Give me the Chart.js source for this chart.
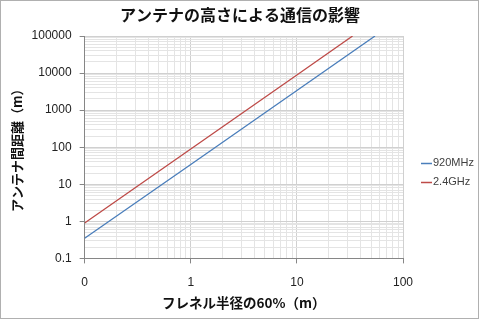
<!DOCTYPE html>
<html>
<head>
<meta charset="utf-8">
<script src="https://cdn.jsdelivr.net/npm/chart.js@4.4.0/dist/chart.umd.min.js"></script>
<style>
  html, body { margin: 0; padding: 0; background: #fff; }
  #wrap { width: 480px; height: 320px; }
</style>
</head>
<body>
<div id="wrap"><canvas id="fresnelChart" width="480" height="320"></canvas></div>
<script>
// data
const xMajor = [0.1, 1, 10, 100];
const xTickLabels = ['0', '1', '10', '100'];
const yMajor = [0.1, 1, 10, 100, 1000, 10000, 100000];
const yTickLabels = ['0.1', '1', '10', '100', '1000', '10000', '100000'];

const chartTitle = 'アンテナの高さによる通信の影響';
const seriesNames = ['920MHz', '2.4GHz'];
const radius920 = [0.1, 1, 10, 54.5];
const distance920 = [0.35, 34, 3400, 100000];
const radius24 = [0.1, 1, 10, 33.5];
const distance24 = [0.9, 89, 8900, 100000];

const blue = '#4a7ebb';
const red = '#be4b48';
const jpFont = '"Noto Sans CJK JP", sans-serif';
const numFont = '"Liberation Sans", "Noto Sans", sans-serif';

// major ticks plus 2..9 minor lines for every decade
function gridValues(majors) {
  const out = [];
  for (let i = 0; i < majors.length - 1; i++) {
    for (let m = 1; m <= 9; m++) out.push(m * majors[i]);
  }
  out.push(majors[majors.length - 1]);
  return out;
}

function toPoints(xs, ys) {
  return xs.map((x, i) => ({ x: x, y: ys[i] }));
}

function isMajor(list, v) {
  return list.some(m => Math.abs(m - v) / m < 1e-9);
}

const frame = {
  id: 'frame',
  beforeDraw(chart) {
    const c = chart.ctx;
    c.save();
    c.fillStyle = '#fff';
    c.fillRect(0, 0, chart.width, chart.height);
    c.restore();
  },
  afterDraw(chart) {
    const c = chart.ctx;
    c.save();
    c.strokeStyle = '#b0b0b0';
    c.lineWidth = 1;
    c.strokeRect(0.5, 0.5, chart.width - 2, chart.height - 2);

    // title centred on the whole picture (Excel style)
    c.fillStyle = '#111';
    c.font = 'bold 16px ' + jpFont;
    c.textAlign = 'center';
    c.textBaseline = 'middle';
    c.fillText(chartTitle, 240, 15);

    // legend on the right, like the Excel one
    c.textAlign = 'left';
    c.font = '11px ' + numFont;
    chart.data.datasets.forEach((ds, i) => {
      const y = 163 + i * 19;
      c.strokeStyle = ds.borderColor;
      c.lineWidth = 1.5;
      c.beginPath();
      c.moveTo(421, y + 0.5);
      c.lineTo(432, y + 0.5);
      c.stroke();
      c.fillStyle = '#404040';
      c.fillText(ds.label, 433, y);
    });
    c.restore();
  }
};

function axis(majors, labels, titleText, vertical) {
  return {
    type: 'logarithmic',
    min: majors[0],
    max: majors[majors.length - 1],
    afterBuildTicks: scale => {
      scale.ticks = gridValues(majors).map(v => ({ value: v, major: isMajor(majors, v) }));
    },
    ticks: {
      autoSkip: false,
      maxRotation: 0,
      color: '#222',
      font: { family: numFont, size: 12 },
      padding: vertical ? 8 : 12,
      callback: v => {
        const i = majors.findIndex(m => Math.abs(m - v) / m < 1e-9);
        return i >= 0 ? labels[i] : '';
      }
    },
    grid: {
      color: ctx => (ctx.tick && isMajor(majors, ctx.tick.value)) ? '#d0d0d0' : '#e4e4e4',
      tickColor: ctx => (ctx.tick && isMajor(majors, ctx.tick.value)) ? '#868686' : 'rgba(0,0,0,0)',
      tickLength: 5,
      lineWidth: 1
    },
    border: { color: '#868686', width: 1 },
    title: {
      display: true,
      text: titleText,
      color: '#111',
      font: { family: jpFont, size: vertical ? 13 : 13.5, weight: 'bold' },
      padding: vertical ? { top: 6, bottom: -1 } : { top: -7, bottom: 3 }
    }
  };
}

new Chart(document.getElementById('fresnelChart'), {
  type: 'line',
  data: {
    datasets: [
      {
        label: seriesNames[0],
        data: toPoints(radius920, distance920),
        borderColor: blue,
        backgroundColor: blue,
        borderWidth: 1.3,
        pointRadius: 0,
        tension: 0
      },
      {
        label: seriesNames[1],
        data: toPoints(radius24, distance24),
        borderColor: red,
        backgroundColor: red,
        borderWidth: 1.3,
        pointRadius: 0,
        tension: 0
      }
    ]
  },
  options: {
    responsive: false,
    animation: false,
    devicePixelRatio: 1,
    layout: { padding: { left: 3, right: 77, top: 36, bottom: 6 } },
    plugins: {
      legend: { display: false },
      tooltip: { enabled: false },
      title: { display: false }
    },
    scales: {
      x: axis(xMajor, xTickLabels, 'フレネル半径の60%（m）', false),
      y: axis(yMajor, yTickLabels, 'アンテナ間距離（m）', true)
    }
  },
  plugins: [frame]
});
</script>
</body>
</html>
